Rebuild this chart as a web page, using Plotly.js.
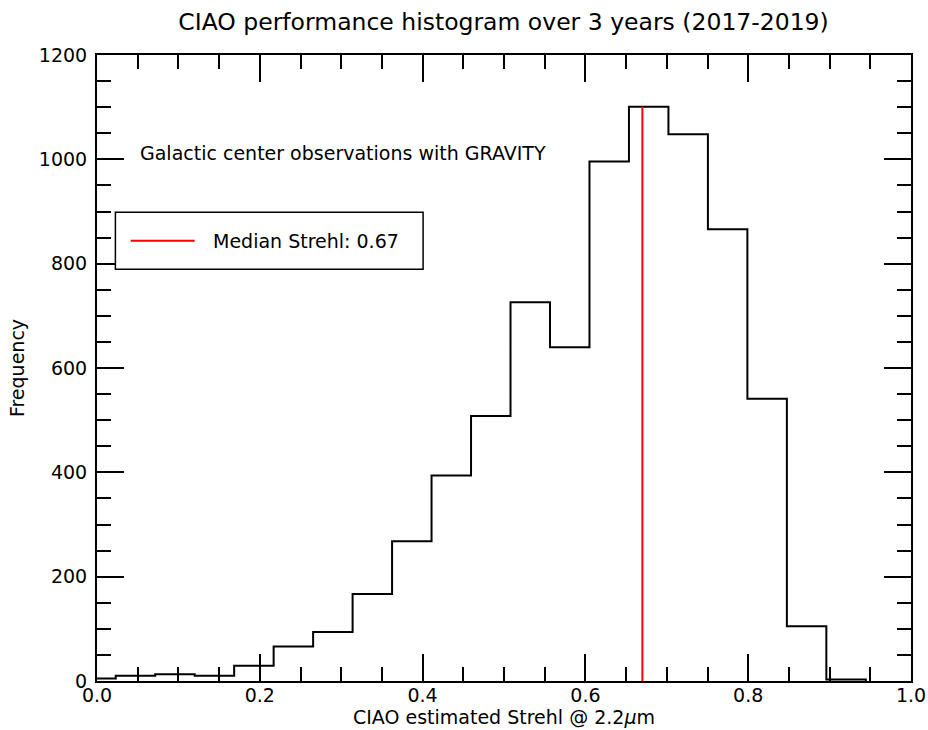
<!DOCTYPE html>
<html>
<head>
<meta charset="utf-8">
<script src="https://cdn.plot.ly/plotly-3.0.1.min.js"></script>
<style>
  html, body { margin: 0; padding: 0; background: #fff; }
  #chart { width: 928px; height: 730px; }
</style>
</head>
<body>
<div id="chart"></div>
<script>
// ---- Data ----
const binEdges = [-0.0255, 0.023, 0.0715, 0.120, 0.1685, 0.217, 0.2655, 0.314, 0.3625, 0.411,
                  0.4595, 0.508, 0.5565, 0.605, 0.6535, 0.702, 0.7505, 0.799, 0.8475, 0.896, 0.9445];
const binCounts = [5, 10, 13, 10, 29, 66, 94, 167, 268, 394,
                   508, 726, 640, 996, 1101, 1048, 866, 541, 105, 3];
const medianStrehl = 0.67;
const titleText = "CIAO performance histogram over 3 years (2017-2019)";
const noteText = "Galactic center observations with GRAVITY";
const xLabel = "CIAO estimated Strehl @ 2.2<i>μ</i>m";
const yLabel = "Frequency";
const xTickVals = [0.0, 0.2, 0.4, 0.6, 0.8, 1.0];
const xTickText = ["0.0", "0.2", "0.4", "0.6", "0.8", "1.0"];
const yTickVals = [0, 200, 400, 600, 800, 1000, 1200];

// ---- Build step outline (matplotlib histtype='step') ----
const stepX = [binEdges[0]];
const stepY = [0];
for (let i = 0; i < binCounts.length; i++) {
  stepX.push(binEdges[i], binEdges[i + 1]);
  stepY.push(binCounts[i], binCounts[i]);
}
stepX.push(binEdges[binEdges.length - 1]);
stepY.push(0);

const maxCount = Math.max(...binCounts);
const FONT = "DejaVu Sans, Verdana, sans-serif";

const traces = [
  {
    type: "scatter", mode: "lines",
    x: stepX, y: stepY,
    line: { color: "#000000", width: 2 },
    showlegend: false, hoverinfo: "skip"
  },
  {
    type: "scatter", mode: "lines",
    x: [medianStrehl, medianStrehl], y: [0, maxCount],
    line: { color: "#ff0000", width: 2 },
    name: "Median Strehl: " + medianStrehl.toFixed(2),
    showlegend: false
  }
];

const axisCommon = {
  showgrid: false, zeroline: false,
  showline: true, linecolor: "#000", linewidth: 2,
  mirror: "allticks",
  ticks: "inside", tickcolor: "#000", tickwidth: 2,
  tickfont: { family: FONT, size: 19, color: "#000" },
  fixedrange: true
};

const layout = {
  width: 928, height: 730,
  paper_bgcolor: "#fff", plot_bgcolor: "#fff",
  margin: { l: 97, r: 17, t: 55, b: 49 },
  font: { family: FONT, size: 19, color: "#000" },
  title: {
    text: titleText,
    font: { family: FONT, size: 23.5, color: "#000" },
    x: 0.5426, xanchor: "center",
    y: 0.97, yref: "container", yanchor: "middle"
  },
  xaxis: Object.assign({}, axisCommon, {
    range: [0, 1],
    tickmode: "array", tickvals: xTickVals, ticktext: xTickText,
    ticklen: 27,
    ticklabelstandoff: -4,
    minor: { dtick: 0.05, tick0: 0, ticklen: 14, ticks: "inside", tickcolor: "#000", tickwidth: 2 },
    title: { text: xLabel, font: { family: FONT, size: 19, color: "#000" }, standoff: 2 },
    automargin: false
  }),
  yaxis: Object.assign({}, axisCommon, {
    range: [0, 1200],
    tickmode: "array", tickvals: yTickVals,
    ticklen: 27,
    ticklabelstandoff: 4,
    minor: { dtick: 50, tick0: 0, ticklen: 14, ticks: "inside", tickcolor: "#000", tickwidth: 2 },
    title: { text: yLabel, font: { family: FONT, size: 19, color: "#000" }, standoff: 9 },
    automargin: false
  }),
  shapes: [
    { type: "rect", xref: "paper", yref: "paper", x0: 0.0226, x1: 0.4006, y0: 0.6577, y1: 0.7487,
      line: { color: "#000", width: 1.5 }, fillcolor: "#fff", layer: "above" },
    { type: "line", xref: "paper", yref: "paper", x0: 0.0414, x1: 0.120, y0: 0.7034, y1: 0.7034,
      line: { color: "#ff0000", width: 2 }, layer: "above" }
  ],
  annotations: [
    { xref: "paper", yref: "paper", x: 0.0504, y: 0.844, xanchor: "left", yanchor: "middle",
      text: noteText, showarrow: false, font: { family: FONT, size: 19, color: "#000" } },
    { xref: "paper", yref: "paper", x: 0.1406, y: 0.7034, xanchor: "left", yanchor: "middle",
      text: "Median Strehl: " + medianStrehl.toFixed(2), showarrow: false,
      font: { family: FONT, size: 19, color: "#000" } }
  ],
  showlegend: false
};

Plotly.newPlot("chart", traces, layout, { displayModeBar: false, staticPlot: true });
</script>
</body>
</html>
